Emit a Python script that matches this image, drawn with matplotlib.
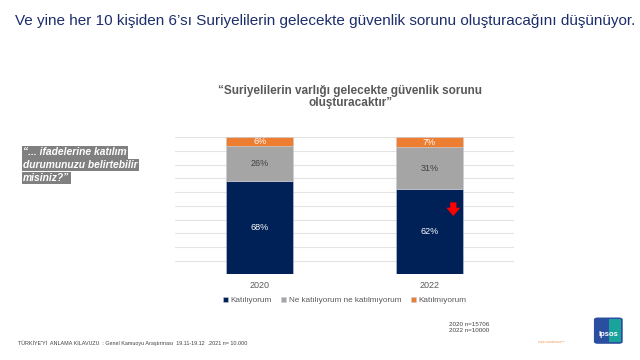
import numpy as np
import matplotlib
matplotlib.use("Agg")
import matplotlib.pyplot as plt
from matplotlib.patches import FancyBboxPatch, Rectangle

plt.rcParams['font.family'] = ['Liberation Sans', 'DejaVu Sans']

years = ['2020', '2022']
katiliyorum = [68, 62]
ne_ne = [26, 31]
katilmiyorum = [6, 7]
series_names = ['Katılıyorum', 'Ne katılıyorum ne katılmıyorum', 'Katılmıyorum']
colors = ['#002157', '#a5a5a5', '#ed7d31']
label_colors = ['white', '#404040', 'white']

title = "Ve yine her 10 kişiden 6\u2019sı Suriyelilerin gelecekte güvenlik sorunu oluşturacağını düşünüyor."
chart_title = "\u201cSuriyelilerin varlığı gelecekte güvenlik sorunu\noluşturacaktır\u201d"
question = ["\u201c... ifadelerine katılım", "durumunuzu belirtebilir", "misiniz?\u201d"]
footer = "TÜRKİYE'Yİ  ANLAMA KILAVUZU  : Genel Kamuoyu Araştırması  19.11-19.12  .2021 n= 10.000"
sample = "2020 n=15706\n2022 n=10000"

fig = plt.figure(figsize=(6.4, 3.6), dpi=100)
ax = fig.add_axes([0.2734, 0.238, 0.5297, 0.3806])

x = np.arange(len(years))
w = 0.394
bottom = np.zeros(len(years))
for vals, col, lc, name in zip([katiliyorum, ne_ne, katilmiyorum], colors, label_colors, series_names):
    vals = np.array(vals, dtype=float)
    ax.bar(x, vals, w, bottom=bottom, color=col, edgecolor='#c8ccd6', linewidth=0.4, label=name, zorder=2)
    for xi, b, v in zip(x, bottom, vals):
        ax.text(xi, b + v / 2, '%d%%' % v, ha='center', va='center', fontsize=6.5, color=lc, zorder=3)
    bottom += vals

ax.set_xlim(-0.5, 1.5)
ax.set_ylim(0, 100)
ax.set_yticks(np.arange(0, 101, 10))
ax.yaxis.grid(True, color='#e3e3e3', linewidth=0.8, zorder=0)
ax.set_axisbelow(True)
ax.tick_params(axis='y', left=False, labelleft=False)
ax.tick_params(axis='x', length=0, labelsize=6.5, labelcolor='#595959', pad=5)
ax.set_xticks(x)
ax.set_xticklabels(years)
for s in ax.spines.values():
    s.set_visible(False)

# red down arrow on 2022
ax.annotate('', xy=(1.142, 42.5), xytext=(1.142, 52.5),
            arrowprops=dict(arrowstyle='simple,head_width=1.0,head_length=0.6,tail_width=0.45',
                            color='#ff0000', lw=0, shrinkA=0, shrinkB=0), zorder=4)

leg = ax.legend(loc='upper center', bbox_to_anchor=(0.5, -0.11), ncol=3, frameon=False,
                fontsize=5.9, handlelength=0.6, handleheight=0.6, handletextpad=0.3,
                columnspacing=1.2, labelcolor='#595959')

fig.text(0.0235, 0.943, title, fontsize=11, color='#1c2d6b', ha='left', va='center')
fig.text(0.547, 0.73, chart_title, fontsize=8.5, color='#595959', fontweight='bold',
         ha='center', va='center', linespacing=1.05)

for i, line in enumerate(question):
    fig.text(0.036, 0.577 - i * 0.036, line, fontsize=7.4, color='white', fontweight='bold',
             fontstyle='italic', ha='left', va='center',
             bbox=dict(boxstyle='square,pad=0.12', facecolor='#808080', edgecolor='none'))

fig.text(0.028, 0.048, footer, fontsize=3.9, color='#404040', ha='left', va='center')
fig.text(0.702, 0.09, sample, fontsize=4.5, color='#404040', ha='left', va='center', linespacing=1.2)
fig.text(0.84, 0.05, 'Sosyal Araştırmalar Servisi\nPublic Affairs Research', fontsize=1.6,
         color='#ed7d31', ha='left', va='center')

# Ipsos logo
fig.patches.append(FancyBboxPatch((0.928, 0.045), 0.045, 0.073, boxstyle='round,pad=0,rounding_size=0.006',
                                  transform=fig.transFigure, facecolor='#2a4ea0', edgecolor='none'))
fig.patches.append(Rectangle((0.951, 0.05), 0.02, 0.063, transform=fig.transFigure,
                             facecolor='#1aa39a', edgecolor='none'))
fig.text(0.9505, 0.07, 'Ipsos', fontsize=5.5, color='white', fontweight='bold', ha='center', va='center')

fig.savefig('out.png', dpi=100)
